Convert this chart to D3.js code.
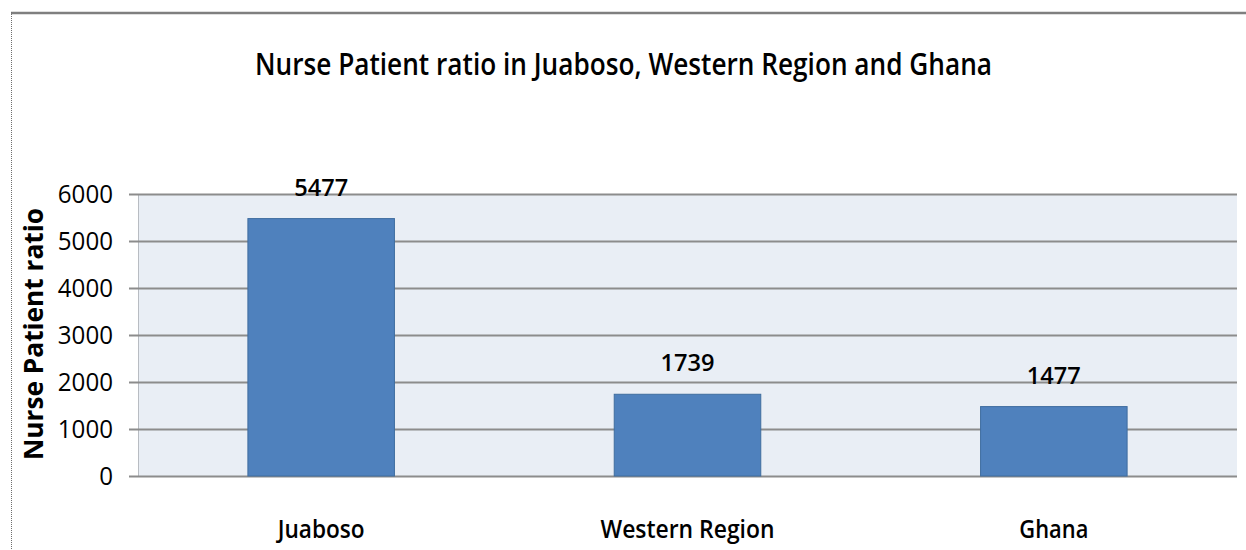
<!DOCTYPE html>
<html>
<head>
<meta charset="utf-8">
<script src="https://cdn.jsdelivr.net/npm/d3@7"></script>
<style>
  body { margin: 0; background: #fff; }
  text { font-family: "Open Sans", sans-serif; fill: #000; }
</style>
</head>
<body>
<svg id="chart" width="1246" height="550"></svg>
<script>
var categories = ['Juaboso', 'Western Region', 'Ghana'];
var ratios = [5477, 1739, 1477];
var yTicks = [0, 1000, 2000, 3000, 4000, 5000, 6000];

var plotLeft = 138, plotRight = 1237, plotTop = 194, plotBottom = 476;
var barColor = '#4f81bd';
var plotBack = '#e9eef5';
var gridColor = '#8c8c8c';

var svg = d3.select('#chart');

// squeeze a text to the wanted width (the original font is narrower)
function squeeze(sel, w) {
  sel.attr('textLength', w).attr('lengthAdjust', 'spacingAndGlyphs');
}

// outer frame: solid top, dotted left
svg.append('line')
  .attr('x1', 11).attr('x2', 1246).attr('y1', 13).attr('y2', 13)
  .attr('stroke', '#7f7f7f').attr('stroke-width', 2.5);
svg.append('line')
  .attr('x1', 11.5).attr('x2', 11.5).attr('y1', 12).attr('y2', 550)
  .attr('stroke', '#6e6e6e').attr('stroke-width', 1)
  .attr('stroke-dasharray', '1,1');

var x = d3.scaleBand()
  .domain(categories)
  .range([plotLeft, plotRight])
  .paddingInner(0.6)
  .paddingOuter(0.3);

var y = d3.scaleLinear()
  .domain([0, 6000])
  .range([plotBottom, plotTop]);

svg.append('rect')
  .attr('x', plotLeft).attr('y', plotTop)
  .attr('width', plotRight - plotLeft).attr('height', plotBottom - plotTop)
  .attr('fill', plotBack);

svg.append('line')
  .attr('x1', plotLeft + 0.5).attr('x2', plotLeft + 0.5)
  .attr('y1', plotTop).attr('y2', plotBottom)
  .attr('stroke', '#b8bcc2').attr('stroke-width', 1);

// gridlines + ticks via the axis
var yAxis = svg.append('g')
  .attr('transform', 'translate(' + plotLeft + ',0)')
  .call(d3.axisLeft(y).tickValues(yTicks)
    .tickSize(-(plotRight - plotLeft)).tickSizeOuter(0).tickPadding(0).tickFormat(''));
yAxis.select('.domain').remove();
yAxis.selectAll('.tick line')
  .attr('x1', -9)
  .attr('stroke', gridColor).attr('stroke-width', 2);

svg.append('g').selectAll('text')
  .data(yTicks)
  .enter()
  .append('text')
  .attr('x', 113)
  .attr('y', function (d) { return y(d); })
  .attr('dy', '0.36em')
  .attr('text-anchor', 'end')
  .attr('font-size', 25)
  .attr('fill', '#1a1a1a')
  .text(function (d) { return d; })
  .each(function (d) { d3.select(this).call(squeeze, 13.8 * String(d).length); });

svg.selectAll('.bar')
  .data(ratios)
  .enter()
  .append('rect')
  .attr('class', 'bar')
  .attr('x', function (d, i) { return x(categories[i]); })
  .attr('y', function (d) { return y(d); })
  .attr('width', x.bandwidth())
  .attr('height', function (d) { return plotBottom - y(d); })
  .attr('fill', barColor)
  .attr('stroke', '#3f6d9f')
  .attr('stroke-width', 1);

svg.selectAll('.val')
  .data(ratios)
  .enter()
  .append('text')
  .attr('class', 'val')
  .attr('x', function (d, i) { return x(categories[i]) + x.bandwidth() / 2; })
  .attr('y', function (d) { return y(d) - 23; })
  .attr('text-anchor', 'middle')
  .attr('font-size', 24)
  .attr('font-weight', 600)
  .text(function (d) { return d; })
  .call(squeeze, 54);

var catWidths = [87, 174, 69];
svg.selectAll('.cat')
  .data(categories)
  .enter()
  .append('text')
  .attr('class', 'cat')
  .attr('x', function (d) { return x(d) + x.bandwidth() / 2; })
  .attr('y', 538)
  .attr('text-anchor', 'middle')
  .attr('font-size', 26)
  .attr('font-weight', 600)
  .text(function (d) { return d; })
  .each(function (d, i) { d3.select(this).call(squeeze, catWidths[i]); });

svg.append('text')
  .attr('transform', 'translate(43,334) rotate(-90)')
  .attr('text-anchor', 'middle')
  .attr('font-size', 27)
  .attr('font-weight', 700)
  .text('Nurse Patient ratio')
  .call(squeeze, 252);

svg.append('text')
  .attr('x', 623.5)
  .attr('y', 75)
  .attr('text-anchor', 'middle')
  .attr('font-size', 31)
  .attr('font-weight', 600)
  .text('Nurse Patient ratio in Juaboso, Western Region and Ghana')
  .call(squeeze, 737);
</script>
</body>
</html>
